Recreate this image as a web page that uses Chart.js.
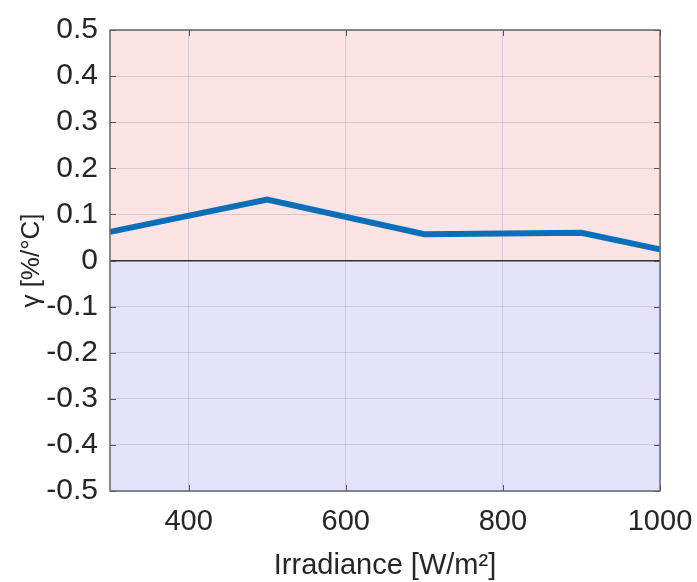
<!DOCTYPE html>
<html>
<head>
<meta charset="utf-8">
<script src="https://cdn.jsdelivr.net/npm/chart.js@4"></script>
<style>
  html, body { margin: 0; padding: 0; background: #fff; }
  #wrap { width: 697px; height: 582px; }
</style>
</head>
<body>
<div id="wrap"><canvas id="c" width="697" height="582"></canvas></div>
<script>
const irradiance = [300, 500, 700, 900, 1000];
const gamma = [0.062, 0.132, 0.057, 0.060, 0.024];
const xTicks = [400, 600, 800, 1000];
const yTicks = [-0.5, -0.4, -0.3, -0.2, -0.1, 0, 0.1, 0.2, 0.3, 0.4, 0.5];

const FONT = "'Liberation Sans', Arial, sans-serif";

// pink above zero, blue below zero, plus inward ticks and box
const bands = {
  id: "bands",
  beforeDraw(chart) {
    const { ctx, chartArea: a, scales: { y } } = chart;
    const z = y.getPixelForValue(0);
    ctx.save();
    ctx.fillStyle = "#fde4e4";
    ctx.fillRect(a.left, a.top, a.right - a.left, z - a.top);
    ctx.fillStyle = "#e3e3fb";
    ctx.fillRect(a.left, z, a.right - a.left, a.bottom - z);
    ctx.restore();
  },
  afterDraw(chart) {
    const { ctx, chartArea: a, scales: { x, y } } = chart;
    ctx.save();
    ctx.strokeStyle = "#555";
    ctx.lineWidth = 1;
    ctx.beginPath();
    yTicks.forEach(v => {
      const p = Math.round(y.getPixelForValue(v)) + 0.5;
      ctx.moveTo(a.left, p); ctx.lineTo(a.left + 6, p);
      ctx.moveTo(a.right, p); ctx.lineTo(a.right - 6, p);
    });
    xTicks.forEach(v => {
      const p = Math.round(x.getPixelForValue(v)) + 0.5;
      ctx.moveTo(p, a.bottom); ctx.lineTo(p, a.bottom - 6);
      ctx.moveTo(p, a.top); ctx.lineTo(p, a.top + 6);
    });
    ctx.stroke();
    ctx.strokeStyle = "#666";
    ctx.lineWidth = 1.5;
    ctx.strokeRect(a.left, a.top, a.right - a.left, a.bottom - a.top);
    ctx.restore();
  }
};

new Chart(document.getElementById("c"), {
  type: "line",
  data: {
    datasets: [{
      data: irradiance.map((v, i) => ({ x: v, y: gamma[i] })),
      borderColor: "#0a6fb8",
      borderWidth: 6,
      pointRadius: 0,
      tension: 0,
      clip: 4
    }]
  },
  options: {
    responsive: false,
    animation: false,
    devicePixelRatio: 1,
    layout: { padding: { top: 28, right: 37, left: 0, bottom: 0 } },
    plugins: { legend: { display: false }, tooltip: { enabled: false } },
    scales: {
      x: {
        type: "linear",
        min: 300,
        max: 1000,
        afterBuildTicks(s) { s.ticks = xTicks.map(v => ({ value: v })); },
        afterFit(s) { s.height = 91; s.paddingRight = 0; s.paddingLeft = 0; },
        grid: { color: "rgba(120,120,150,0.25)", drawTicks: false, lineWidth: 1 },
        border: { display: false },
        ticks: {
          color: "#262626",
          font: { family: FONT, size: 29 },
          padding: 14,
          maxRotation: 0,
          callback: v => String(v)
        },
        title: {
          display: true,
          text: "Irradiance [W/m²]",
          color: "#262626",
          font: { family: FONT, size: 29 },
          padding: { top: 14, bottom: -1 }
        }
      },
      y: {
        min: -0.5,
        max: 0.5,
        afterBuildTicks(s) { s.ticks = yTicks.map(v => ({ value: v })); },
        afterFit(s) { s.width = 110; },
        grid: {
          color: c => c.tick && c.tick.value === 0 ? "#333" : "rgba(120,120,150,0.25)",
          lineWidth: c => c.tick && c.tick.value === 0 ? 1.5 : 1,
          drawTicks: false
        },
        border: { display: false },
        ticks: {
          color: "#262626",
          font: { family: FONT, size: 30 },
          padding: 12,
          callback: v => v === 0 ? "0" : String(Math.round(v * 10) / 10)
        },
        title: {
          display: true,
          text: "γ [%/°C]",
          color: "#262626",
          font: { family: FONT, size: 26 },
          padding: { top: 16, bottom: 2 }
        }
      }
    }
  },
  plugins: [bands]
});
</script>
</body>
</html>
